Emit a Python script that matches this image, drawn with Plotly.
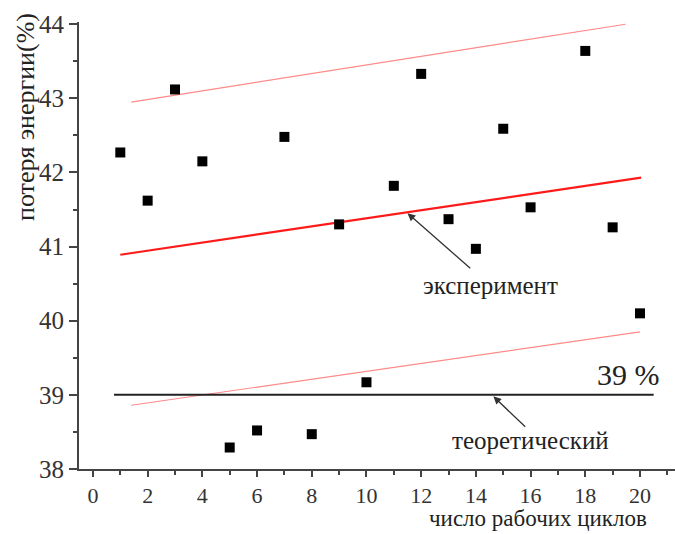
import plotly.graph_objects as go

# Data
cycles = [1, 2, 3, 4, 5, 6, 7, 8, 9, 10, 11, 12, 13, 14, 15, 16, 18, 19, 20]
loss = [42.27, 41.62, 43.12, 42.15, 38.29, 38.52, 42.48, 38.47, 41.30, 39.17,
        41.82, 43.33, 41.37, 40.97, 42.59, 41.53, 43.64, 41.26, 40.10]

fit_x = [1.0, 20.04]
fit_y = [40.89, 41.93]
upper_x = [1.4, 19.47]
upper_y = [42.95, 44.0]
lower_x = [1.4, 20.0]
lower_y = [38.86, 39.85]
theory_x = [0.77, 20.5]
theory_y = [39.0, 39.0]

x_ticks = [0, 2, 4, 6, 8, 10, 12, 14, 16, 18, 20]
y_ticks = [38, 39, 40, 41, 42, 43, 44]

FONT = "Liberation Serif, Times New Roman, serif"
AX = "#444444"
TXT = "#222222"

# plot area in pixels
L, T, R, B = 79, 22, 675, 469
PW, PH = R - L, B - T


def px(xp):
    return (xp - L) / PW


def py(yp):
    return (B - yp) / PH


fig = go.Figure()
fig.add_trace(go.Scatter(x=upper_x, y=upper_y, mode="lines",
                         line=dict(color="#ff8a8a", width=1.2), showlegend=False))
fig.add_trace(go.Scatter(x=lower_x, y=lower_y, mode="lines",
                         line=dict(color="#ff8a8a", width=1.2), showlegend=False))
fig.add_trace(go.Scatter(x=fit_x, y=fit_y, mode="lines",
                         line=dict(color="#ff1a1a", width=2.2), showlegend=False))
fig.add_trace(go.Scatter(x=theory_x, y=theory_y, mode="lines",
                         line=dict(color="#222222", width=2), showlegend=False))
fig.add_trace(go.Scatter(x=cycles, y=loss, mode="markers",
                         marker=dict(symbol="square", size=10, color="black"),
                         showlegend=False))

fig.add_annotation(x=11.5, y=41.45, ax=13.85, ay=40.69, xref="x", yref="y",
                   axref="x", ayref="y", showarrow=True, arrowhead=2,
                   arrowsize=1.2, arrowwidth=1.3, arrowcolor="#333333", text="")
fig.add_annotation(x=14.52, y=40.48, xref="x", yref="y", text="эксперимент",
                   showarrow=False, font=dict(family=FONT, size=25, color=TXT))
fig.add_annotation(x=14.64, y=38.98, ax=15.86, ay=38.55, xref="x", yref="y",
                   axref="x", ayref="y", showarrow=True, arrowhead=2,
                   arrowsize=1.2, arrowwidth=1.3, arrowcolor="#333333", text="")
fig.add_annotation(x=15.98, y=38.39, xref="x", yref="y", text="теоретический",
                   showarrow=False, font=dict(family=FONT, size=25, color=TXT))
fig.add_annotation(x=19.58, y=39.27, xref="x", yref="y", text="39 %",
                   showarrow=False, font=dict(family=FONT, size=30, color=TXT))

fig.add_annotation(xref="paper", yref="paper", x=px(25), y=py(117),
                   text="потеря энергии(%)", showarrow=False, textangle=-90,
                   xanchor="center", yanchor="middle",
                   font=dict(family=FONT, size=26, color=TXT))
fig.add_annotation(xref="paper", yref="paper", x=px(538), y=0,
                   yshift=-(534 - B) + 1,
                   text="число рабочих циклов", showarrow=False,
                   xanchor="center", yanchor="bottom",
                   font=dict(family=FONT, size=23, color=TXT))

fig.update_layout(
    width=675, height=534,
    margin=dict(l=L, r=675 - R, t=T, b=534 - B),
    plot_bgcolor="white", paper_bgcolor="white",
    font=dict(family=FONT, size=22, color="#333333"),
    xaxis=dict(range=[-0.51, 21.28], tickvals=x_ticks, ticks="outside", ticklen=6,
               tickwidth=1.5, tickcolor=AX, showline=True, linecolor=AX, linewidth=2,
               showgrid=False, zeroline=False,
               minor=dict(dtick=1, ticks="outside", ticklen=4, tickcolor=AX, tickwidth=1.5)),
    yaxis=dict(range=[38, 44.03], tickvals=y_ticks, ticks="outside", ticklen=8,
               tickwidth=1.5, tickcolor=AX, showline=True, linecolor=AX, linewidth=2,
               showgrid=False, zeroline=False,
               tickfont=dict(size=25),
               minor=dict(dtick=0.5, ticks="outside", ticklen=4, tickcolor=AX, tickwidth=1.5)),
)

fig.write_html("out.html")
